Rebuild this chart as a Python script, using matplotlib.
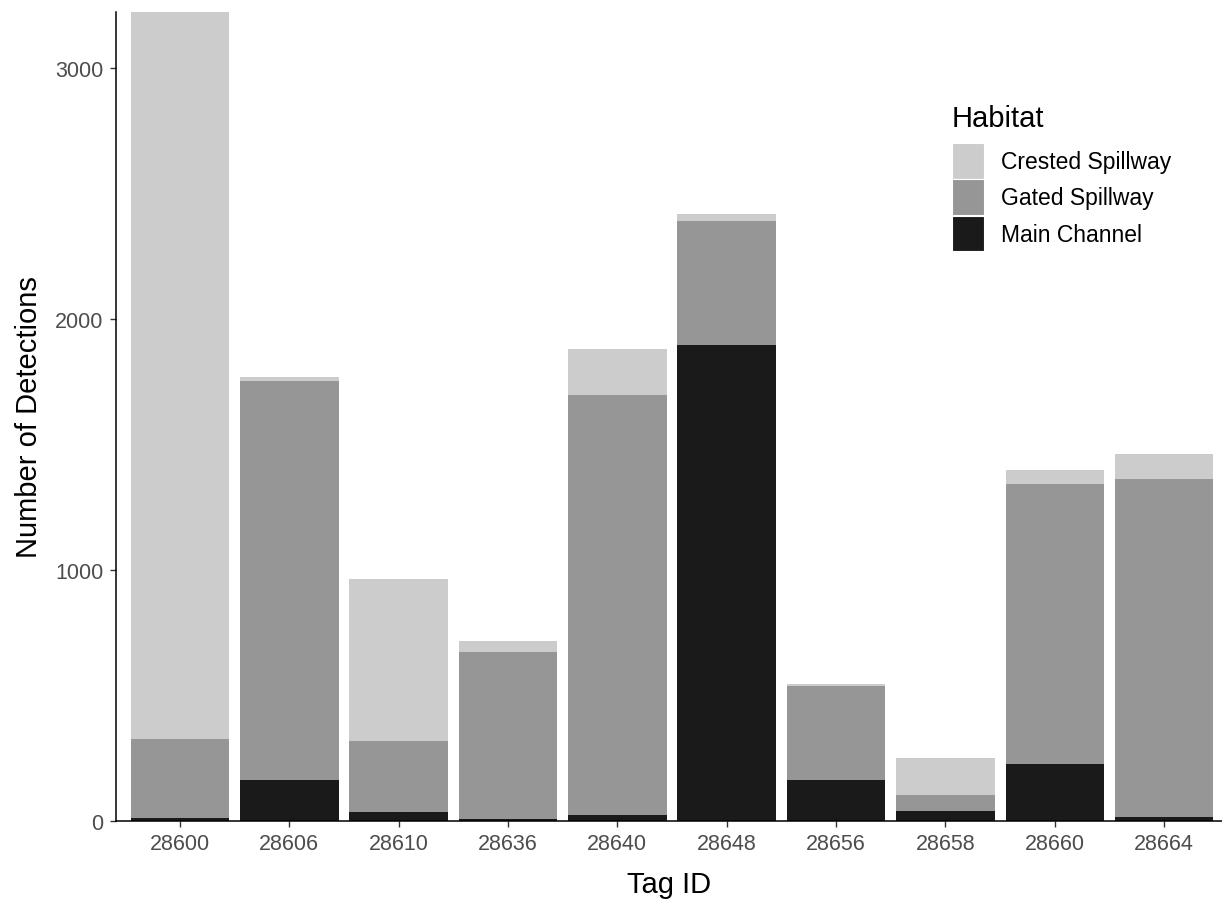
import numpy as np
import matplotlib.pyplot as plt
from matplotlib.patches import Patch

plt.rcParams['font.family'] = ['Liberation Sans', 'DejaVu Sans']

# data
tags = ['28600', '28606', '28610', '28636', '28640', '28648', '28656', '28658', '28660', '28664']
main_channel = [10, 163, 36, 6, 24, 1896, 163, 40, 227, 16]
gated_spillway = [317, 1590, 283, 667, 1673, 494, 375, 64, 1116, 1347]
crested_spillway = [2896, 16, 645, 44, 183, 28, 8, 147, 55, 99]

habitats = ['Crested Spillway', 'Gated Spillway', 'Main Channel']
colors = {'Crested Spillway': '#CCCCCC', 'Gated Spillway': '#969696', 'Main Channel': '#1A1A1A'}

fig = plt.figure(figsize=(12.22, 9.03), dpi=100)
ax = fig.add_axes([116 / 1222, (903 - 822) / 903, (1222 - 116) / 1222, (822 - 13) / 903])

x = np.arange(len(tags))
main = np.array(main_channel)
gated = np.array(gated_spillway)
crest = np.array(crested_spillway)

ax.bar(x, main, width=0.9, color=colors['Main Channel'])
ax.bar(x, gated, width=0.9, bottom=main, color=colors['Gated Spillway'])
ax.bar(x, crest, width=0.9, bottom=main + gated, color=colors['Crested Spillway'])

ax.set_xlim(-0.585, 9.53)
ax.set_ylim(0, (main + gated + crest).max())
ax.set_xticks(x)
ax.set_xticklabels(tags)
ax.set_yticks([0, 1000, 2000, 3000])

for s in ['top', 'right']:
    ax.spines[s].set_visible(False)
for s in ['left', 'bottom']:
    ax.spines[s].set_color('black')
    ax.spines[s].set_linewidth(1.1)

ax.tick_params(axis='both', colors='#333333', labelcolor='#4D4D4D', labelsize=15.5,
               length=4, width=1, pad=5)
ax.set_xlabel('Tag ID', fontsize=21, labelpad=11)
ax.set_ylabel('Number of Detections', fontsize=21, labelpad=9)

handles = [Patch(facecolor=colors[h], edgecolor='white', linewidth=0.8) for h in habitats]
leg = ax.legend(handles, habitats, title='Habitat', loc='upper left',
                bbox_to_anchor=(936 / 1222, 1 - 89 / 903), bbox_transform=fig.transFigure,
                frameon=False, fontsize=16.5, title_fontsize=21,
                handlelength=1.4, handleheight=2.0, labelspacing=0.04,
                handletextpad=0.72, borderpad=0.2)
leg._legend_box.align = 'left'
leg._legend_box.sep = 8

fig.savefig('out.png', dpi=100)
